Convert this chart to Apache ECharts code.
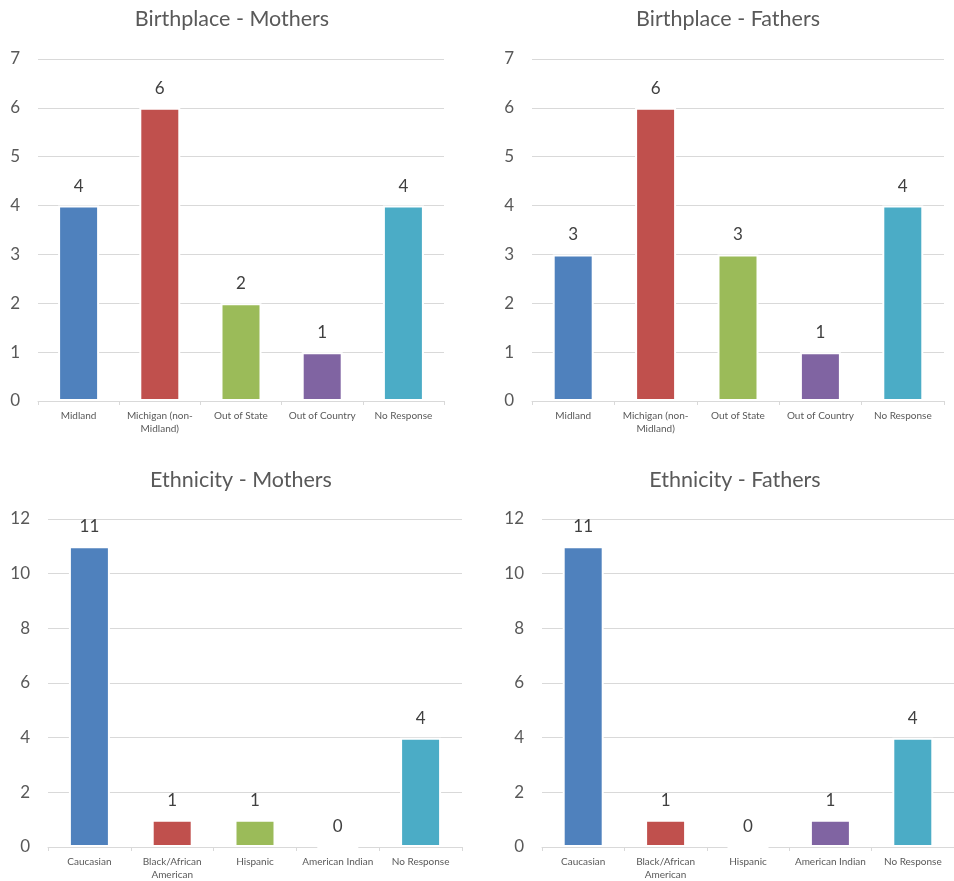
<!DOCTYPE html>
<html>
<head>
<meta charset="utf-8">
<script src="https://cdn.jsdelivr.net/npm/echarts@6/dist/echarts.min.js"></script>
<style>
  html, body { margin: 0; padding: 0; background: #fff; }
  #chart { width: 954px; height: 881px; }
</style>
</head>
<body>
<div id="chart"></div>
<script>
// Survey counts: birthplace and ethnicity of mothers and fathers
const birthplaceCategories = ['Midland', 'Michigan (non-\nMidland)', 'Out of State', 'Out of Country', 'No Response'];
const birthplaceMothers = [4, 6, 2, 1, 4];
const birthplaceFathers = [3, 6, 3, 1, 4];

const ethnicityCategories = ['Caucasian', 'Black/African\nAmerican', 'Hispanic', 'American Indian', 'No Response'];
const ethnicityMothers = [11, 1, 1, 0, 4];
const ethnicityFathers = [11, 1, 0, 1, 4];

const panelTitles = ['Birthplace - Mothers', 'Birthplace - Fathers', 'Ethnicity - Mothers', 'Ethnicity - Fathers'];
const barColors = ['#4F81BD', '#C0504D', '#9BBB59', '#8064A2', '#4BACC6'];

const FONT = 'Lato, "Open Sans", sans-serif';
const TEXT = '#595959';
const GRID_LINE = '#D9D9D9';

// panel layout: plot areas in pixels
const panels = [
  { cats: birthplaceCategories, data: birthplaceMothers, max: 7,  interval: 1, grid: { left: 38,  top: 59,  width: 406,   height: 342 }, titleX: 232, titleY: 8 },
  { cats: birthplaceCategories, data: birthplaceFathers, max: 7,  interval: 1, grid: { left: 532, top: 59,  width: 412,   height: 342 }, titleX: 728, titleY: 8 },
  { cats: ethnicityCategories,  data: ethnicityMothers,  max: 12, interval: 2, grid: { left: 48,  top: 519, width: 414,   height: 329 }, titleX: 241, titleY: 469 },
  { cats: ethnicityCategories,  data: ethnicityFathers,  max: 12, interval: 2, grid: { left: 542, top: 519, width: 414.5, height: 329 }, titleX: 735, titleY: 469 }
];

const option = {
  animation: false,
  backgroundColor: '#fff',
  color: barColors,
  title: panels.map((p, i) => ({
    text: panelTitles[i],
    left: p.titleX,
    top: p.titleY,
    padding: 0,
    textAlign: 'center',
    textStyle: { fontFamily: FONT, fontSize: 21.5, fontWeight: 'normal', color: TEXT }
  })),
  grid: panels.map(p => Object.assign({ containLabel: false }, p.grid)),
  xAxis: panels.map((p, i) => ({
    type: 'category',
    gridIndex: i,
    data: p.cats,
    axisLine: { lineStyle: { color: GRID_LINE, width: 1 } },
    axisTick: { show: true, length: 4, lineStyle: { color: GRID_LINE } },
    axisLabel: { interval: 0, margin: 8, fontFamily: FONT, fontSize: 10, lineHeight: 13, color: TEXT }
  })),
  yAxis: panels.map((p, i) => ({
    type: 'value',
    gridIndex: i,
    min: 0,
    max: p.max,
    interval: p.interval,
    axisLine: { show: false },
    axisTick: { show: false },
    axisLabel: { margin: 18, fontFamily: FONT, fontSize: 17, color: TEXT },
    splitLine: { lineStyle: { color: GRID_LINE, width: 1 } }
  })),
  series: panels.map((p, i) => ({
    type: 'bar',
    xAxisIndex: i,
    yAxisIndex: i,
    data: p.data,
    colorBy: 'data',
    barWidth: 41,
    itemStyle: { borderColor: '#fff', borderWidth: 2 },
    label: { show: true, position: 'top', distance: 11, fontFamily: FONT, fontSize: 17, color: '#404040' }
  }))
};

const chart = echarts.init(document.getElementById('chart'), null, { renderer: 'canvas' });
chart.setOption(option);
</script>
</body>
</html>
